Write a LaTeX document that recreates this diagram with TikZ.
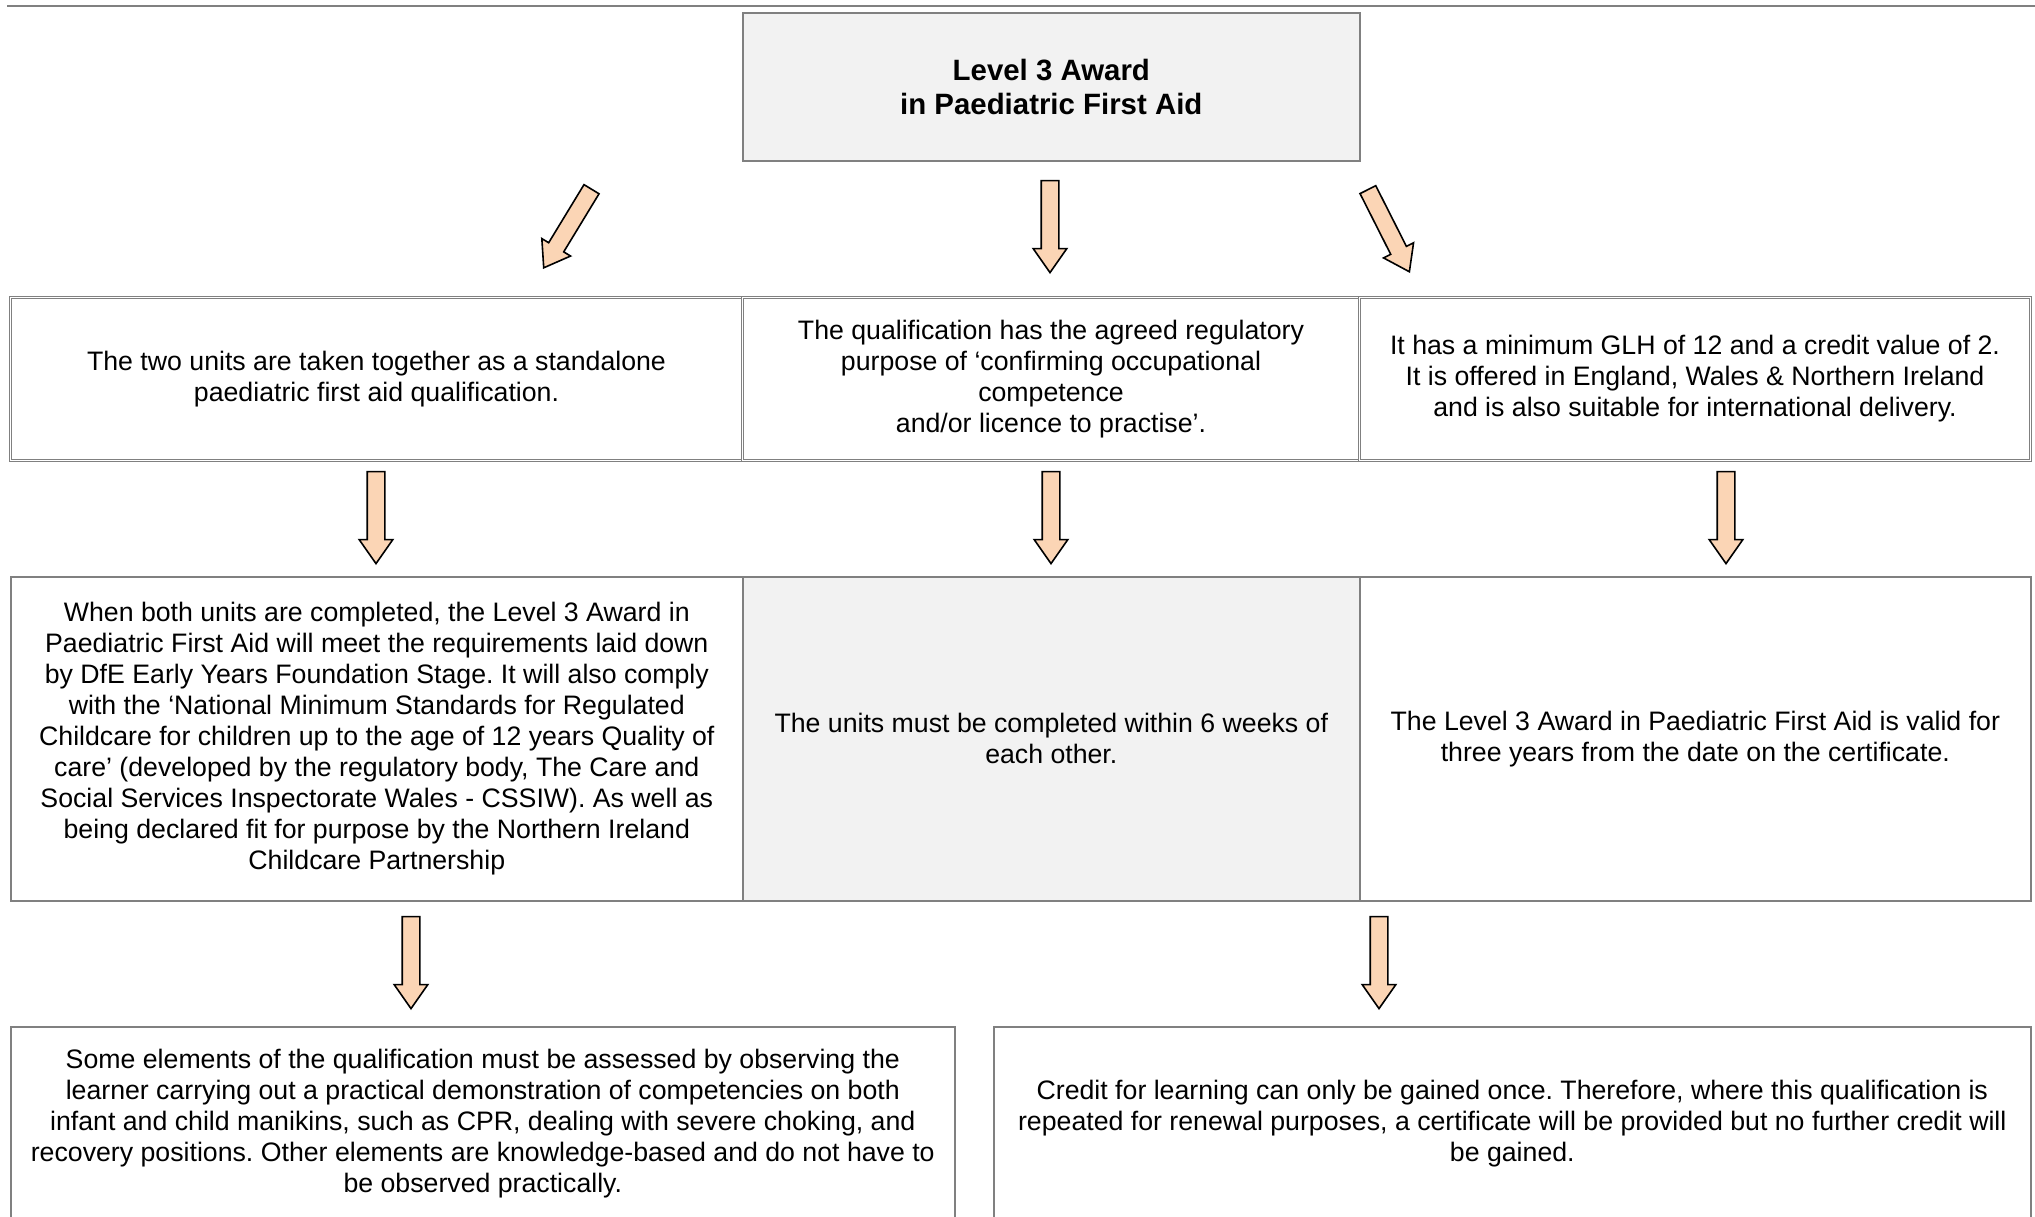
\documentclass[tikz,border=0pt]{standalone}
\usepackage{fontspec}
\setmainfont{Liberation Sans}
\frenchspacing
\usepackage{tikz}
\usetikzlibrary{shapes.arrows}
\definecolor{boxline}{HTML}{808080}
\definecolor{boxfill}{HTML}{F2F2F2}
\definecolor{peach}{HTML}{FBD5B5}
\tikzstyle{cell} = [draw=boxline,line width=1.6pt,rectangle,anchor=north west,inner sep=0pt,align=center,font=\fontsize{26.7}{31}\selectfont]
\tikzstyle{dcell} = [cell,line width=1pt,double,double distance=1.5pt]
\tikzstyle{blockarrow} = [draw=black,fill=peach,line width=1.6pt,single arrow,anchor=tip,minimum height=92pt,minimum width=32pt,single arrow head extend=8pt,single arrow tip angle=70,inner xsep=0pt,inner ysep=8pt]

\begin{document}
\begin{tikzpicture}[x=1pt,y=-1pt]
        \useasboundingbox (0,0) rectangle (2035,1216);
        \draw[boxline,line width=2pt] (7,5.5) -- (2035,5.5);

        \node[cell,fill=boxfill,minimum width=617pt,minimum height=148pt,font=\fontsize{29.4}{34}\bfseries] (title) at (742,12)
          {Level 3 Award\\in Paediatric First Aid};

        % second row
        \node[dcell,minimum width=732pt,minimum height=163pt] (units) at (10,297)
          {The two units are taken together as a standalone\\paediatric first aid qualification.};
        \node[dcell,minimum width=617pt,minimum height=163pt] (purpose) at (742,297)
          {The qualification has the agreed regulatory\\purpose of ‘confirming occupational\\competence\\and/or licence to practise’.};
        \node[dcell,minimum width=671pt,minimum height=163pt] (glh) at (1359,297)
          {It has a minimum GLH of 12 and a credit value of 2.\\It is offered in England, Wales \& Northern Ireland\\and is also suitable for international delivery.};

        % third row
        \node[cell,minimum width=732pt,minimum height=324pt] (require) at (10,576)
          {When both units are completed, the Level 3 Award in\\Paediatric First Aid will meet the requirements laid down\\by DfE Early Years Foundation Stage. It will also comply\\with the ‘National Minimum Standards for Regulated\\Childcare for children up to the age of 12 years Quality of\\care’ (developed by the regulatory body, The Care and\\Social Services Inspectorate Wales - CSSIW). As well as\\being declared fit for purpose by the Northern Ireland\\Childcare Partnership};
        \node[cell,fill=boxfill,minimum width=617pt,minimum height=324pt] (weeks) at (742,576)
          {The units must be completed within 6 weeks of\\each other.};
        \node[cell,minimum width=671pt,minimum height=324pt] (valid) at (1359,576)
          {The Level 3 Award in Paediatric First Aid is valid for\\three years from the date on the certificate.};

        % fourth row
        \node[cell,minimum width=944pt,minimum height=194pt] (assess) at (10,1026)
          {Some elements of the qualification must be assessed by observing the\\learner carrying out a practical demonstration of competencies on both\\infant and child manikins, such as CPR, dealing with severe choking, and\\recovery positions. Other elements are knowledge-based and do not have to\\be observed practically.};
        \node[cell,minimum width=1037pt,minimum height=194pt] (credit) at (993,1026)
          {Credit for learning can only be gained once. Therefore, where this qualification is\\repeated for renewal purposes, a certificate will be provided but no further credit will\\be gained.};

        % block arrows
        \node[blockarrow,rotate=-121.3] (a1) at (543,269) {};
        \node[blockarrow,rotate=-90] (a2) at (1050,274) {};
        \node[blockarrow,rotate=-63.2] (a3) at (1410,273) {};
        \node[blockarrow,rotate=-90] (a4) at (376,565) {};
        \node[blockarrow,rotate=-90] (a5) at (1051,565) {};
        \node[blockarrow,rotate=-90] (a6) at (1726,565) {};
        \node[blockarrow,rotate=-90] (a7) at (411,1010) {};
        \node[blockarrow,rotate=-90] (a8) at (1379,1010) {};

      \end{tikzpicture}
\end{document}
